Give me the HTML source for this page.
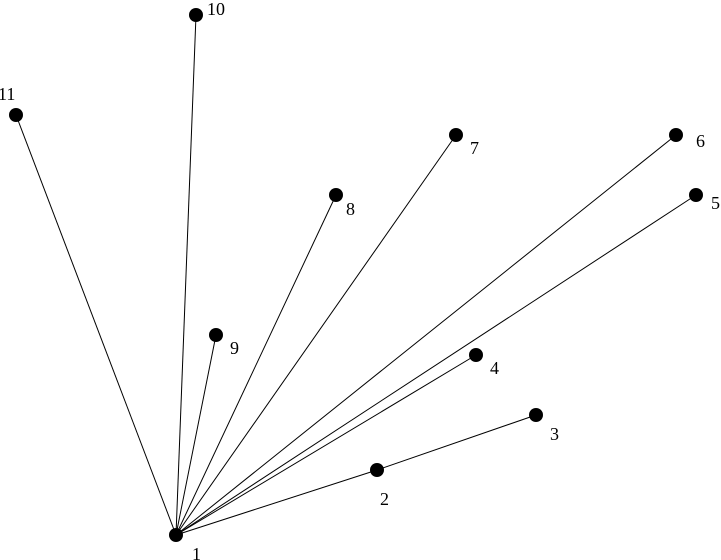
<!DOCTYPE html>
<html><head><style>html,body{margin:0;padding:0;background:#fff}svg{display:block}</style></head>
<body>
<svg width="721" height="560" xmlns="http://www.w3.org/2000/svg" font-family="Liberation Serif, serif" font-size="18">
<g stroke="#000" stroke-width="1">
<line x1="176" y1="535" x2="377" y2="470"/>
<line x1="377" y1="470" x2="536" y2="415"/>
<line x1="176" y1="535" x2="476" y2="355"/>
<line x1="176" y1="535" x2="696" y2="195"/>
<line x1="176" y1="535" x2="676" y2="135"/>
<line x1="176" y1="535" x2="456" y2="135"/>
<line x1="176" y1="535" x2="336" y2="195"/>
<line x1="176" y1="535" x2="216" y2="335"/>
<line x1="176" y1="535" x2="196" y2="15"/>
<line x1="176" y1="535" x2="16" y2="115"/>
</g>
<g fill="#000">
<circle cx="176" cy="535" r="7"/>
<circle cx="377" cy="470" r="7"/>
<circle cx="536" cy="415" r="7"/>
<circle cx="476" cy="355" r="7"/>
<circle cx="696" cy="195" r="7"/>
<circle cx="676" cy="135" r="7"/>
<circle cx="456" cy="135" r="7"/>
<circle cx="336" cy="195" r="7"/>
<circle cx="216" cy="335" r="7"/>
<circle cx="196" cy="15" r="7"/>
<circle cx="16" cy="115" r="7"/>
<text x="192" y="560">1</text>
<text x="380" y="505">2</text>
<text x="550" y="440">3</text>
<text x="490" y="374">4</text>
<text x="711" y="209">5</text>
<text x="696" y="147">6</text>
<text x="470" y="154">7</text>
<text x="346" y="215">8</text>
<text x="230" y="354">9</text>
<text x="207" y="15">10</text>
<text x="-2" y="100">11</text>
</g>
</svg>
</body></html>
